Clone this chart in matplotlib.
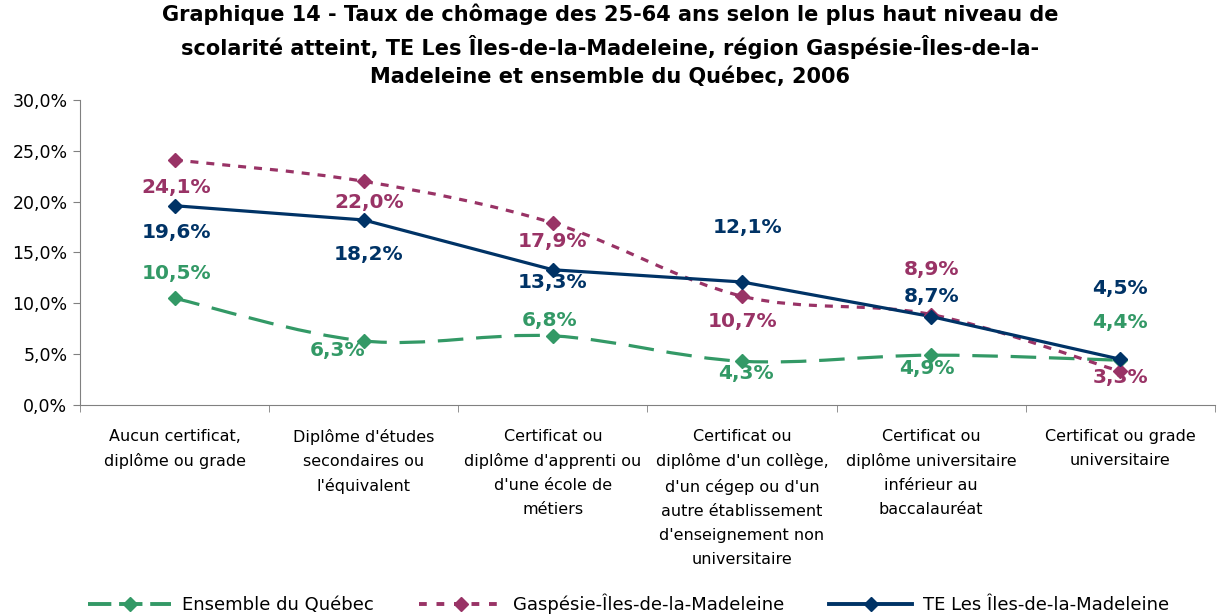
import numpy as np
import matplotlib.pyplot as plt
from matplotlib.path import Path
from matplotlib.patches import PathPatch
from matplotlib.lines import Line2D

categories = [
    "Aucun certificat,\ndiplôme ou grade",
    "Diplôme d'études\nsecondaires ou\nl'équivalent",
    "Certificat ou\ndiplôme d'apprenti ou\nd'une école de\nmétiers",
    "Certificat ou\ndiplôme d'un collège,\nd'un cégep ou d'un\nautre établissement\nd'enseignement non\nuniversitaire",
    "Certificat ou\ndiplôme universitaire\ninférieur au\nbaccalauréat",
    "Certificat ou grade\nuniversitaire",
]
quebec = [10.5, 6.3, 6.8, 4.3, 4.9, 4.4]
gaspesie = [24.1, 22.0, 17.9, 10.7, 8.9, 3.3]
iles = [19.6, 18.2, 13.3, 12.1, 8.7, 4.5]
yticks = [0, 5, 10, 15, 20, 25, 30]

title = ("Graphique 14 - Taux de chômage des 25-64 ans selon le plus haut niveau de\n"
         "scolarité atteint, TE Les Îles-de-la-Madeleine, région Gaspésie-Îles-de-la-\n"
         "Madeleine et ensemble du Québec, 2006")

GREEN = "#339966"
PURPLE = "#993366"
NAVY = "#003366"

# label offsets in pixels (dx, dy), dy positive = down
off_q = [(2, -25), (-26, 10), (-3, -15), (4, 12), (-4, 13), (0, -38)]
off_g = [(2, 28), (5, 21), (0, 18), (0, 25), (0, -45), (0, 6)]
off_i = [(2, 27), (5, 35), (0, 13), (5, -54), (0, -20), (0, -71)]


def smooth_path(xs, ys):
    # bezier through the points, like a smoothed line in a spreadsheet chart
    pts = np.column_stack([xs, ys]).astype(float)
    verts = [pts[0]]
    codes = [Path.MOVETO]
    n = len(pts)
    for i in range(n - 1):
        p0 = pts[i - 1] if i > 0 else pts[i]
        p1 = pts[i]
        p2 = pts[i + 1]
        p3 = pts[i + 2] if i + 2 < n else pts[i + 1]
        c1 = p1 + (p2 - p0) / 6.0
        c2 = p2 - (p3 - p1) / 6.0
        verts += [c1, c2, p2]
        codes += [Path.CURVE4] * 3
    return Path(verts, codes)


fig = plt.figure(figsize=(12.21, 6.15), dpi=100)
ax = fig.add_axes([0.0655, 0.3415, 0.9295, 0.4959])

x = np.arange(len(categories))
px = 100 / 72.0

ax.add_patch(PathPatch(smooth_path(x, quebec), fill=False, edgecolor=GREEN,
                       lw=2.3, linestyle=(0, (8, 4)), capstyle="butt"))
ax.add_patch(PathPatch(smooth_path(x, gaspesie), fill=False, edgecolor=PURPLE,
                       lw=2.3, linestyle=(0, (2.5, 2.5)), capstyle="butt"))
ax.plot(x, iles, color=NAVY, lw=2.3)

ax.plot(x, quebec, ls="none", marker="D", ms=7, color=GREEN)
ax.plot(x, gaspesie, ls="none", marker="D", ms=7, color=PURPLE)
ax.plot(x, iles, ls="none", marker="D", ms=7, color=NAVY)

for vals, offs, col in [(quebec, off_q, GREEN), (gaspesie, off_g, PURPLE), (iles, off_i, NAVY)]:
    for xi, v, (dx, dy) in zip(x, vals, offs):
        ax.annotate(f"{v:.1f}%".replace(".", ","), (xi, v),
                    xytext=(dx / px, -dy / px), textcoords="offset points",
                    ha="center", va="center", color=col, fontsize=14.5,
                    fontweight="bold")

ax.set_xlim(-0.5, len(categories) - 0.5)
ax.set_ylim(0, 30)
ax.set_yticks(yticks)
ax.set_yticklabels([f"{t:.1f}%".replace(".", ",") for t in yticks], fontsize=12.5)
ax.set_xticks(x)
ax.set_xticklabels(categories, fontsize=11.5, linespacing=1.75, va="top")
ax.set_xticks(np.arange(-0.5, len(categories)), minor=True)
ax.tick_params(axis="x", which="major", length=0, pad=17)
ax.tick_params(axis="x", which="minor", length=5, color="#808080")
ax.tick_params(axis="y", length=5, color="#808080", pad=4)
for s in ["top", "right"]:
    ax.spines[s].set_visible(False)
for s in ["left", "bottom"]:
    ax.spines[s].set_color("#808080")

fig.suptitle(title, fontsize=15, fontweight="bold", y=0.995, linespacing=1.5)

handles = [
    Line2D([], [], color=GREEN, lw=2.8, ls=(0, (6, 2)), marker="D", ms=7),
    Line2D([], [], color=PURPLE, lw=2.8, ls=(0, (2, 2.5)), marker="D", ms=7),
    Line2D([], [], color=NAVY, lw=2.8, marker="D", ms=7),
]
fig.legend(handles, ["Ensemble du Québec", "Gaspésie-Îles-de-la-Madeleine",
                     "TE Les Îles-de-la-Madeleine"],
           loc="center", bbox_to_anchor=(0.515, 0.018), ncol=3, frameon=False,
           fontsize=13, handlelength=4.6, columnspacing=2.5, handletextpad=0.6)

fig.savefig("out.png", dpi=100)
